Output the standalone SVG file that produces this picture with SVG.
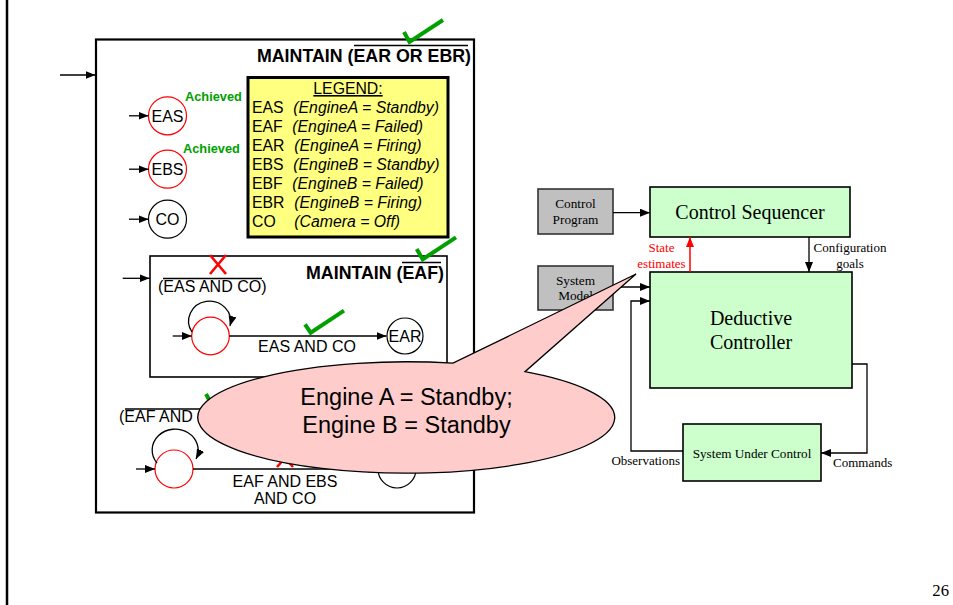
<svg xmlns="http://www.w3.org/2000/svg" width="953" height="605" viewBox="0 0 953 605">
  <style>
    .s{font-family:"Liberation Sans",Arial,sans-serif}
    .r{font-family:"Liberation Serif","Times New Roman",serif}
    .b{font-weight:bold}
    .i{font-style:italic}
    .ln{stroke:#000;stroke-width:1.3;fill:none}
    .st{fill:#fff;stroke:#000;stroke-width:1.2}
    .sr{fill:#fff;stroke:#f00;stroke-width:1.2}
    .ov{stroke:#000;stroke-width:1.4}
    .chk{fill:none;stroke:#00a000;stroke-width:4}
    .xm{stroke:#f00;stroke-width:2.6}
    .grn{fill:#ccffcc;stroke:#000;stroke-width:1.6}
    .gry{fill:#c0c0c0;stroke:#333;stroke-width:1.6}
    .ach{fill:#00a000;font-size:12.8px}
  </style>
  <defs>
    <marker id="ah" markerUnits="userSpaceOnUse" markerWidth="12" markerHeight="10" refX="10" refY="4" orient="auto">
      <path d="M0,0 L10,4 L0,8 Z" fill="#000"/>
    </marker>
    <marker id="ahr" markerUnits="userSpaceOnUse" markerWidth="12" markerHeight="10" refX="10" refY="4" orient="auto">
      <path d="M0,0 L10,4 L0,8 Z" fill="#f00"/>
    </marker>
  </defs>

  <!-- slide edge -->
  <line x1="7" y1="0" x2="7" y2="605" stroke="#000" stroke-width="2.5"/>

  <!-- top-level goal: MAINTAIN (not (EAR OR EBR)) -->
  <g id="goal-outer">
    <rect x="96" y="39.5" width="378" height="473" fill="#fff" stroke="#000" stroke-width="2.2"/>
    <text class="s b" x="471" y="62" font-size="17.8" text-anchor="end">MAINTAIN (EAR OR EBR)</text>
    <line class="ov" x1="354" y1="45.5" x2="468" y2="45.5"/>
    <polyline class="chk" points="404,32 409.5,42 443,20"/>
  </g>

  <g id="legend">
    <rect x="248" y="77.5" width="200" height="159.5" fill="#ffff80" stroke="#000" stroke-width="3"/>
    <g class="s" font-size="15.8">
      <text x="348" y="94" text-anchor="middle" text-decoration="underline">LEGEND:</text>
      <text x="252" y="112.7">EAS</text><text class="i" x="293.3" y="112.7">(EngineA = Standby)</text>
      <text x="252" y="131.5">EAF</text><text class="i" x="292.3" y="131.5">(EngineA = Failed)</text>
      <text x="252" y="150.5">EAR</text><text class="i" x="294.3" y="150.5">(EngineA = Firing)</text>
      <text x="252" y="170">EBS</text><text class="i" x="293.3" y="170">(EngineB = Standby)</text>
      <text x="252" y="189">EBF</text><text class="i" x="292.3" y="189">(EngineB = Failed)</text>
      <text x="252" y="208">EBR</text><text class="i" x="294.3" y="208">(EngineB = Firing)</text>
      <text x="252" y="227">CO</text><text class="i" x="294.3" y="227">(Camera = Off)</text>
    </g>
  </g>

  <g id="state-eas">
    <circle class="sr" cx="167.5" cy="115.8" r="19"/>
    <text class="s" x="167.5" y="121.5" font-size="16" text-anchor="middle">EAS</text>
    <text class="s b ach" x="185" y="100.7">Achieved</text>
  </g>
  <g id="state-ebs">
    <circle class="sr" cx="167.5" cy="169.2" r="19"/>
    <text class="s" x="167.5" y="175" font-size="16" text-anchor="middle">EBS</text>
    <text class="s b ach" x="183" y="153.3">Achieved</text>
  </g>
  <g id="state-co">
    <circle class="st" cx="167.5" cy="219.2" r="19"/>
    <text class="s" x="167.5" y="225" font-size="16" text-anchor="middle">CO</text>
  </g>

  <!-- sub-goal: MAINTAIN (not EAF) -->
  <g id="goal-eaf">
    <rect x="150" y="256" width="297" height="121" fill="#fff" stroke="#000" stroke-width="1.6"/>
    <text class="s b" x="444" y="278.5" font-size="17.8" text-anchor="end">MAINTAIN (EAF)</text>
    <line class="ov" x1="402" y1="262.5" x2="441" y2="262.5"/>
    <polyline class="chk" points="416.7,249 422.7,259.3 456,237.3"/>
    <text class="s" x="158" y="292" font-size="16">(EAS AND CO)</text>
    <line class="ov" x1="163" y1="278.5" x2="262" y2="278.5"/>
    <line class="xm" x1="210" y1="255" x2="226" y2="274"/>
    <line class="xm" x1="226" y1="255" x2="210" y2="274"/>
    <text class="s" x="307" y="352" font-size="16" text-anchor="middle">EAS AND CO</text>
    <polyline class="chk" points="305,324.3 310.7,332.7 344,310.7"/>
  </g>
  <g id="state-eaf-wait">
    <circle class="sr" cx="210.5" cy="336" r="18.8"/>
  </g>
  <g id="state-ear">
    <circle class="st" cx="405" cy="336" r="18"/>
    <text class="s" x="405" y="342" font-size="16" text-anchor="middle">EAR</text>
  </g>

  <!-- sub-goal for engine B -->
  <g id="goal-ebf">
    <text class="s" x="119" y="421.7" font-size="16">(EAF AND</text>
    <line class="ov" x1="125" y1="409" x2="330" y2="409"/>
    <polyline class="chk" points="206,394 212,405 243,387"/>
    <text class="s" x="285" y="487" font-size="16" text-anchor="middle">EAF AND EBS</text>
    <text class="s" x="285" y="504" font-size="16" text-anchor="middle">AND CO</text>
    <line class="xm" x1="277" y1="449" x2="293" y2="467"/>
    <line class="xm" x1="293" y1="449" x2="277" y2="467"/>
  </g>
  <g id="state-ebf-wait">
    <circle class="sr" cx="174" cy="469" r="19"/>
  </g>
  <g id="state-ebr">
    <circle class="st" cx="397" cy="469" r="19"/>
  </g>

  <!-- control architecture -->
  <g id="control-program">
    <rect class="gry" x="538" y="189" width="75" height="45"/>
    <text class="r" x="575.5" y="207.7" font-size="13.3" text-anchor="middle">Control</text>
    <text class="r" x="575.5" y="224" font-size="13.3" text-anchor="middle">Program</text>
  </g>
  <g id="system-model">
    <rect class="gry" x="538" y="266" width="75" height="44"/>
    <text class="r" x="575.5" y="284.5" font-size="13.3" text-anchor="middle">System</text>
    <text class="r" x="575.5" y="300" font-size="13.3" text-anchor="middle">Model</text>
  </g>
  <g id="control-sequencer">
    <rect class="grn" x="650" y="187" width="200" height="50"/>
    <text class="r" x="750" y="219" font-size="20" text-anchor="middle">Control Sequencer</text>
  </g>
  <g id="deductive-controller">
    <rect class="grn" x="650" y="272" width="202" height="116"/>
    <text class="r" x="751" y="325" font-size="20" text-anchor="middle">Deductive</text>
    <text class="r" x="751" y="349" font-size="20" text-anchor="middle">Controller</text>
  </g>
  <g id="system-under-control">
    <rect class="grn" x="683" y="424" width="138" height="57"/>
    <text class="r" x="752" y="457.5" font-size="13.2" text-anchor="middle">System Under Control</text>
  </g>

  <g id="connectors">
    <line class="ln" x1="60" y1="75" x2="95.5" y2="75" marker-end="url(#ah)"/>
    <line class="ln" x1="129" y1="115.8" x2="148.5" y2="115.8" marker-end="url(#ah)"/>
    <line class="ln" x1="129" y1="169.2" x2="148.5" y2="169.2" marker-end="url(#ah)"/>
    <line class="ln" x1="129" y1="219.2" x2="148.5" y2="219.2" marker-end="url(#ah)"/>
    <line class="ln" x1="122.7" y1="278.3" x2="149.5" y2="278.3" marker-end="url(#ah)"/>
    <line class="ln" x1="172.7" y1="336" x2="191.7" y2="336" marker-end="url(#ah)"/>
    <path class="ln" d="M192,332 A21 20 0 1 1 230,326" marker-end="url(#ah)"/>
    <line class="ln" x1="229.3" y1="336" x2="386.5" y2="336" marker-end="url(#ah)"/>
    <line class="ln" x1="136" y1="469" x2="155" y2="469" marker-end="url(#ah)"/>
    <path class="ln" d="M157,463 A23 21 0 1 1 196,459" marker-end="url(#ah)"/>
    <line class="ln" x1="193" y1="469" x2="377.5" y2="469" marker-end="url(#ah)"/>

    <line class="ln" x1="613" y1="212.7" x2="650" y2="212.7" marker-end="url(#ah)"/>
    <line class="ln" x1="613" y1="287" x2="650" y2="287" marker-end="url(#ah)"/>
    <polyline class="ln" points="683,451 631,451 631,301 650,301" marker-end="url(#ah)"/>
    <polyline class="ln" points="852,364 867,364 867,453 821,453" marker-end="url(#ah)"/>
    <line class="ln" x1="809" y1="237" x2="809" y2="272" marker-end="url(#ah)"/>
    <line x1="690" y1="272" x2="690" y2="237" stroke="#f00" stroke-width="1.5" marker-end="url(#ahr)"/>
    <text class="r" x="661.5" y="252" font-size="13" fill="#f00" text-anchor="middle">State</text>
    <text class="r" x="661.5" y="268" font-size="13" fill="#f00" text-anchor="middle">estimates</text>
    <text class="r" x="850" y="252" font-size="13" text-anchor="middle">Configuration</text>
    <text class="r" x="850" y="268" font-size="13" text-anchor="middle">goals</text>
    <text class="r" x="680" y="465" font-size="13" text-anchor="end">Observations</text>
    <text class="r" x="833" y="466.5" font-size="13">Commands</text>
  </g>

  <!-- speech bubble -->
  <g id="callout">
    <path d="M525,371.7 A208.5 55.7 0 1 1 453,363.2 L636,274 Z" fill="#ffcccc" stroke="#000" stroke-width="1.3"/>
    <text class="s" x="406.5" y="405" font-size="23.5" text-anchor="middle">Engine A = Standby;</text>
    <text class="s" x="406.5" y="433.3" font-size="23.5" text-anchor="middle">Engine B = Standby</text>
  </g>

  <text class="r" x="949" y="596" font-size="16.7" text-anchor="end">26</text>
</svg>
